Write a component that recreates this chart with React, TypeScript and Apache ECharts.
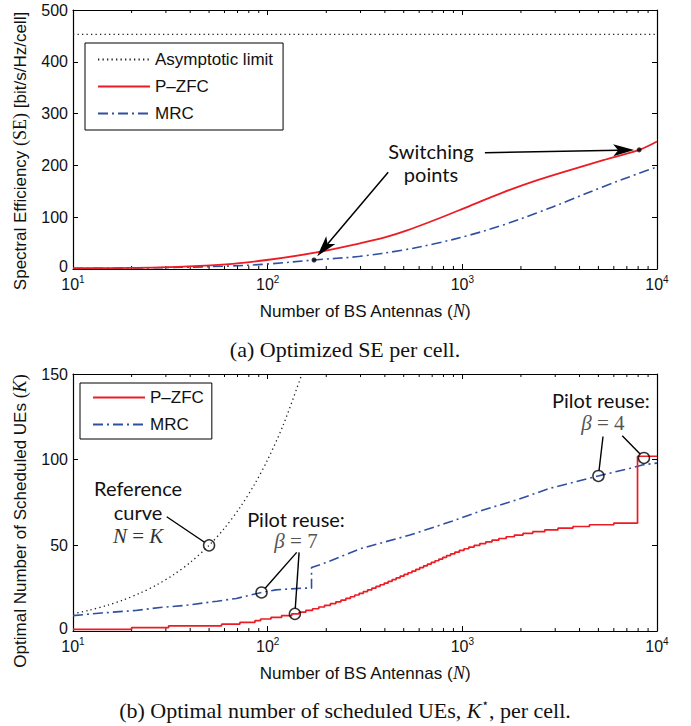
import React, { useEffect, useRef } from 'react';
import * as echarts from 'echarts';

// ---------- data ----------
const N_MIN = 10;
const N_MAX = 10000;

// (a) spectral efficiency
const SE_LIMIT = 453;
const SE_PZFC_N = [10, 28, 61, 99, 175, 298, 400, 520, 738, 1094, 1622, 2408, 3570, 5295, 8100, 10000];
const SE_PZFC = [1.5, 3.3, 9, 17.4, 31.5, 49.6, 61, 74.5, 96, 122, 148, 171, 191, 210, 230, 246];
const SE_MRC_N = [10, 28, 61, 99, 173, 298, 498, 738, 1094, 1622, 2408, 3570, 5295, 7850, 10000];
const SE_MRC = [1, 2.5, 5.5, 9.5, 17.4, 24.5, 36.7, 49.6, 65.6, 85, 108, 133, 159, 183, 197];
const SWITCH_N = [173, 8100];
const SWITCH_SE = [17.4, 230];

// (b) optimal number of scheduled UEs (step thresholds)
const K_PZFC_N = [10, 20, 31, 58, 72, 86, 92, 104, 118, 133, 145, 157, 170, 183, 196, 210, 224, 238, 252, 266, 280, 295, 310, 326, 343, 360, 378, 397, 416, 436, 457, 479, 502, 526, 551, 577, 604, 632, 661, 692, 724, 758, 793, 830, 870, 915, 965, 1020, 1080, 1150, 1230, 1320, 1420, 1540, 1680, 1850, 2050, 2300, 2650, 3100, 3700, 4500, 6000, 7943, 10000];
const K_PZFC = [1, 2, 3, 4, 5, 6, 7, 8, 9, 10, 11, 12, 13, 14, 15, 16, 17, 18, 19, 20, 21, 22, 23, 24, 25, 26, 27, 28, 29, 30, 31, 32, 33, 34, 35, 36, 37, 38, 39, 40, 41, 42, 43, 44, 45, 46, 47, 48, 49, 50, 51, 52, 53, 54, 55, 56, 57, 58, 59, 60, 61, 62, 63, 102, 102];
const K_MRC_N = [10, 14, 21, 28, 38, 55, 69, 93, 110, 150, 168, 168, 200, 298, 538, 883, 1280, 1900, 2818, 4990, 7300, 8500, 10000];
const K_MRC = [9, 10.5, 12, 13.7, 15, 17.4, 19, 22.5, 24, 25, 25, 37, 40, 48, 56, 64, 70.6, 76.5, 83.3, 90.5, 95, 97, 98];
const REF_N = [10, 12, 15, 18, 22, 27, 33, 40, 50, 60, 72, 86, 100, 120, 150];
const REF_K = [10, 12, 15, 18, 22, 27, 33, 40, 50, 60, 72, 86, 100, 120, 150];
const CIRCLE_N = [50, 93, 138, 5000, 8570];
const CIRCLE_K = [50, 22.5, 10, 90.5, 101];

const X_MINOR_TICKS = [20, 30, 40, 50, 60, 70, 80, 90, 200, 300, 400, 500, 600, 700, 800, 900, 2000, 3000, 4000, 5000, 6000, 7000, 8000, 9000];

// ---------- styles ----------
const FONT = '"Liberation Sans", Arial, Helvetica, sans-serif';
const SERIF = '"Liberation Serif", "Times New Roman", serif';
const ANNOT = 'Lato, "Liberation Sans", sans-serif';
const RED = '#ec1c24';
const BLUE = '#2f4fa2';
const TXT = '#111';

const zip = (xs: number[], ys: number[]) => xs.map((x, i) => [x, ys[i]]);

function xAxis(gridIndex: number, position: string, main: boolean) {
  return {
    type: 'log',
    logBase: 10,
    gridIndex,
    min: N_MIN,
    max: N_MAX,
    position,
    axisLine: { show: true, onZero: false, lineStyle: { color: '#000', width: 1.2 } },
    axisTick: { show: true, inside: true, length: 5, lineStyle: { color: '#000', width: 1 } },
    splitLine: { show: false },
    axisLabel: main
      ? {
          show: true,
          margin: 7,
          formatter: (v: number) => `{b|10}{s|${Math.round(Math.log10(v))}}`,
          rich: {
            b: { fontSize: 16, fontFamily: FONT, color: TXT, lineHeight: 16, verticalAlign: 'bottom' },
            s: { fontSize: 10, fontFamily: FONT, color: TXT, lineHeight: 10, padding: [0, 0, 8, 0], verticalAlign: 'bottom' },
          },
        }
      : { show: false },
    name: main ? '{a|Number of BS Antennas (}{i|N}{a|)}' : '',
    nameLocation: 'middle',
    nameGap: 33,
    nameTextStyle: {
      rich: {
        a: { fontSize: 17, fontFamily: FONT, color: TXT },
        i: { fontSize: 18, fontFamily: SERIF, fontStyle: 'italic', color: TXT },
      },
    },
  };
}

function yAxis(gridIndex: number, position: string, main: boolean, max: number, interval: number) {
  return {
    type: 'value',
    gridIndex,
    min: 0,
    max,
    interval,
    position,
    axisLine: { show: true, onZero: false, lineStyle: { color: '#000', width: 1.2 } },
    axisTick: { show: true, inside: true, length: 5, lineStyle: { color: '#000', width: 1 } },
    splitLine: { show: false },
    axisLabel: main
      ? {
          show: true,
          margin: 5,
          fontSize: 16,
          lineHeight: 12,
          fontFamily: FONT,
          color: TXT,
          formatter: (v: number) => (v === 0 ? '{z|0}' : String(v)),
          rich: { z: { fontSize: 16, fontFamily: FONT, color: TXT, lineHeight: 12, padding: [0, 0, 5, 0] } },
        }
      : { show: false },
  };
}

export default function App() {
  const ref = useRef<HTMLDivElement>(null);

  useEffect(() => {
    const el = ref.current;
    if (!el) return;
    const chart = echarts.init(el, null, { renderer: 'svg', width: 691, height: 726 });

    const legendText = { fontSize: 17, fontFamily: FONT, color: TXT };
    const legendBase = {
      orient: 'vertical',
      itemWidth: 52,
      itemHeight: 14,
      itemGap: 10,
      borderColor: '#000',
      borderWidth: 1,
      borderRadius: 0,
      backgroundColor: '#fff',
      selectedMode: false,
      textStyle: legendText,
      itemStyle: { opacity: 0, color: 'rgba(0,0,0,0)', borderWidth: 0 },
    };

    const option: any = {
      animation: false,
      backgroundColor: '#fff',
      grid: [
        { left: 73, top: 10, width: 584, height: 259, outerBoundsMode: 'none', containLabel: false },
        { left: 73, top: 374, width: 584, height: 257, outerBoundsMode: 'none', containLabel: false },
      ],
      xAxis: [xAxis(0, 'bottom', true), xAxis(0, 'top', false), xAxis(1, 'bottom', true), xAxis(1, 'top', false)],
      yAxis: [
        yAxis(0, 'left', true, 500, 100),
        yAxis(0, 'right', false, 500, 100),
        yAxis(1, 'left', true, 150, 50),
        yAxis(1, 'right', false, 150, 50),
      ],
      legend: [
        {
          ...legendBase,
          left: 85,
          top: 43,
          data: ['Asymptotic limit', 'P–ZFC', 'MRC'],
          padding: [8, 10, 8, 12],
        },
        {
          ...legendBase,
          left: 80,
          top: 383,
          data: ['P–ZFC', 'MRC'],
          padding: [6, 8, 6, 12],
        },
      ],
      series: [
        {
          name: 'Asymptotic limit',
          type: 'line',
          xAxisIndex: 0,
          yAxisIndex: 0,
          data: [
            [N_MIN, SE_LIMIT],
            [N_MAX, SE_LIMIT],
          ],
          symbol: 'none',
          itemStyle: { color: '#222' },
          lineStyle: { color: '#222', width: 1.3, type: [1.3, 3.2] },
          silent: true,
        },
        {
          name: 'P–ZFC',
          type: 'line',
          xAxisIndex: 0,
          yAxisIndex: 0,
          data: zip(SE_PZFC_N, SE_PZFC),
          symbol: 'none',
          smooth: 0.35,
          itemStyle: { color: RED },
          lineStyle: { color: RED, width: 1.8 },
          z: 3,
        },
        {
          name: 'MRC',
          type: 'line',
          xAxisIndex: 0,
          yAxisIndex: 0,
          data: zip(SE_MRC_N, SE_MRC),
          symbol: 'none',
          smooth: 0.35,
          itemStyle: { color: BLUE },
          lineStyle: { color: BLUE, width: 1.6, type: [10, 4, 2, 4] },
          z: 2,
        },
        {
          name: 'Switching points',
          type: 'scatter',
          xAxisIndex: 0,
          yAxisIndex: 0,
          data: zip(SWITCH_N, SWITCH_SE),
          symbol: 'circle',
          symbolSize: 5,
          itemStyle: { color: '#000' },
          z: 5,
        },
        {
          name: 'P–ZFC',
          type: 'line',
          xAxisIndex: 2,
          yAxisIndex: 2,
          data: zip(K_PZFC_N, K_PZFC),
          step: 'end',
          symbol: 'none',
          itemStyle: { color: RED },
          lineStyle: { color: RED, width: 1.7 },
          z: 3,
        },
        {
          name: 'MRC',
          type: 'line',
          xAxisIndex: 2,
          yAxisIndex: 2,
          data: zip(K_MRC_N, K_MRC),
          symbol: 'none',
          itemStyle: { color: BLUE },
          lineStyle: { color: BLUE, width: 1.6, type: [10, 4, 2, 4] },
          z: 2,
        },
        {
          name: 'Reference curve N=K',
          type: 'line',
          xAxisIndex: 2,
          yAxisIndex: 2,
          data: zip(REF_N, REF_K),
          symbol: 'none',
          smooth: 0.3,
          itemStyle: { color: '#222' },
          lineStyle: { color: '#222', width: 1.3, type: [1.3, 3.2] },
          z: 2,
        },
        {
          name: 'Marked points',
          type: 'scatter',
          xAxisIndex: 2,
          yAxisIndex: 2,
          data: zip(CIRCLE_N, CIRCLE_K),
          symbol: 'circle',
          symbolSize: 11,
          itemStyle: { color: 'rgba(0,0,0,0)', borderColor: '#000', borderWidth: 1.5 },
          z: 6,
        },
      ],
    };

    chart.setOption(option);

    // ---------- annotations, computed through the axes ----------
    const P = (si: number, x: number, y: number) => chart.convertToPixel({ seriesIndex: si }, [x, y]) as number[];
    const g: any[] = [];

    // minor ticks on log axes (top and bottom of both plots)
    const grids = [
      { xi: 0, yi: 0, ymax: 500 },
      { xi: 2, yi: 2, ymax: 150 },
    ];
    grids.forEach((gr) => {
      const yb = chart.convertToPixel({ yAxisIndex: gr.yi }, 0) as number;
      const yt = chart.convertToPixel({ yAxisIndex: gr.yi }, gr.ymax) as number;
      X_MINOR_TICKS.forEach((v) => {
        const x = chart.convertToPixel({ xAxisIndex: gr.xi }, v) as number;
        g.push({ type: 'line', silent: true, shape: { x1: x, y1: yb, x2: x, y2: yb - 3 }, style: { stroke: '#000', lineWidth: 1 } });
        g.push({ type: 'line', silent: true, shape: { x1: x, y1: yt, x2: x, y2: yt + 3 }, style: { stroke: '#000', lineWidth: 1 } });
      });
    });

    const text = (x: number, y: number, t: string, style: any, rotation = 0) => ({
      type: 'text',
      x,
      y,
      rotation,
      silent: true,
      z: 20,
      style: { text: t, align: 'center', verticalAlign: 'middle', fill: TXT, ...style },
    });

    // y axis titles
    g.push(
      text(20, 151, '{a|Spectral Efficiency }{m|(SE)}{a| [bit/s/Hz/cell]}', {
        rich: {
          a: { fontSize: 17, fontFamily: FONT, fill: TXT },
          m: { fontSize: 18, fontFamily: SERIF, fill: TXT },
        },
      }, Math.PI / 2)
    );
    g.push(
      text(20, 521, '{a|Optimal Number of Scheduled UEs }{m|(}{i|K}{m|)}', {
        rich: {
          a: { fontSize: 17, fontFamily: FONT, fill: TXT },
          m: { fontSize: 18, fontFamily: SERIF, fill: TXT },
          i: { fontSize: 18, fontFamily: SERIF, fontStyle: 'italic', fill: TXT },
        },
      }, Math.PI / 2)
    );

    // captions
    g.push(text(345, 349, '(a) Optimized SE per cell.', { font: `22px ${SERIF}` }));
    g.push(
      text(345, 710, '{r|(b) Optimal number of scheduled UEs, }{i|K}{s|⋆}{r|, per cell.}', {
        rich: {
          r: { fontSize: 22, fontFamily: SERIF, fill: TXT, lineHeight: 26 },
          i: { fontSize: 22, fontFamily: SERIF, fontStyle: 'italic', fill: TXT, lineHeight: 26 },
          s: { fontSize: 12, fontFamily: '"DejaVu Sans", sans-serif', fill: TXT, lineHeight: 26, verticalAlign: 'top' },
        },
      })
    );

    const annFont = `20px ${ANNOT}`;
    const mathRich = {
      i: { fontSize: 21, fontFamily: SERIF, fontStyle: 'italic', fill: '#555', lineHeight: 18 },
      r: { fontSize: 21, fontFamily: SERIF, fill: '#555', lineHeight: 18 },
    };
    const ann = (x: number, y: number, t: string) => text(x, y, t, { font: annFont, lineHeight: 18 });

    // switching points (top)
    const sw1 = P(0, 690, 227);
    const sw2 = P(0, 690, 183);
    g.push(ann(sw1[0], sw1[1], 'Switching'));
    g.push(ann(sw2[0], sw2[1], 'points'));

    const arrow = (from: number[], to: number[]) => {
      const dx = to[0] - from[0];
      const dy = to[1] - from[1];
      const L = Math.hypot(dx, dy);
      const ux = dx / L;
      const uy = dy / L;
      const nx = -uy;
      const ny = ux;
      const tip = [to[0] - ux * 5, to[1] - uy * 5];
      const base = [tip[0] - ux * 21, tip[1] - uy * 21];
      const notch = [tip[0] - ux * 16, tip[1] - uy * 16];
      g.push({ type: 'line', silent: true, z: 20, shape: { x1: from[0], y1: from[1], x2: notch[0], y2: notch[1] }, style: { stroke: '#000', lineWidth: 1.5 } });
      g.push({
        type: 'polygon',
        silent: true,
        z: 20,
        shape: { points: [tip, [base[0] + nx * 6, base[1] + ny * 6], notch, [base[0] - nx * 6, base[1] - ny * 6]] },
        style: { fill: '#000' },
      });
    };
    arrow(P(0, 1306, 224.5), P(3, SWITCH_N[1], SWITCH_SE[1]));
    arrow(P(0, 416, 186.7), P(3, SWITCH_N[0], SWITCH_SE[0]));

    // leader lines to circles (bottom)
    const leader = (from: number[], to: number[]) => {
      const dx = to[0] - from[0];
      const dy = to[1] - from[1];
      const L = Math.hypot(dx, dy);
      const end = [to[0] - (dx / L) * 5.5, to[1] - (dy / L) * 5.5];
      g.push({ type: 'line', silent: true, z: 20, shape: { x1: from[0], y1: from[1], x2: end[0], y2: end[1] }, style: { stroke: '#000', lineWidth: 1.4 } });
    };

    const c = CIRCLE_N.map((n, i) => P(7, n, CIRCLE_K[i]));

    // Reference curve N=K
    const r1 = P(7, 21.6, 83.3);
    const r2 = P(7, 21.6, 69.3);
    const r3 = P(7, 21.6, 55.3);
    g.push(ann(r1[0], r1[1], 'Reference'));
    g.push(ann(r2[0], r2[1], 'curve'));
    g.push(text(r3[0], r3[1], '{i|N}{r| = }{i|K}', { rich: { i: { ...mathRich.i, fill: '#333' }, r: { ...mathRich.r, fill: '#333' } } }));
    leader(P(7, 30.3, 66.7), c[0]);

    // Pilot reuse beta = 7
    const b7a = P(7, 139.8, 65.6);
    const b7b = P(7, 139.8, 52.5);
    g.push(ann(b7a[0], b7a[1], 'Pilot reuse:'));
    g.push(text(b7b[0], b7b[1], '{i|β}{r| = 7}', { rich: mathRich }));
    leader(P(7, 141, 45.9), c[1]);
    leader(P(7, 145, 45.9), c[2]);

    // Pilot reuse beta = 4
    const b4a = P(7, 5150, 134.6);
    const b4b = P(7, 5270, 121.5);
    g.push(ann(b4a[0], b4a[1], 'Pilot reuse:'));
    g.push(text(b4b[0], b4b[1], '{i|β}{r| = 4}', { rich: mathRich }));
    leader(P(7, 5280, 113.5), c[3]);
    leader(P(7, 6630, 113.9), c[4]);

    chart.setOption({ graphic: g });

    return () => {
      chart.dispose();
    };
  }, []);

  return (
    <div
      ref={ref}
      style={{ position: 'fixed', left: 0, top: 0, width: 691, height: 726, background: '#fff' }}
    />
  );
}
